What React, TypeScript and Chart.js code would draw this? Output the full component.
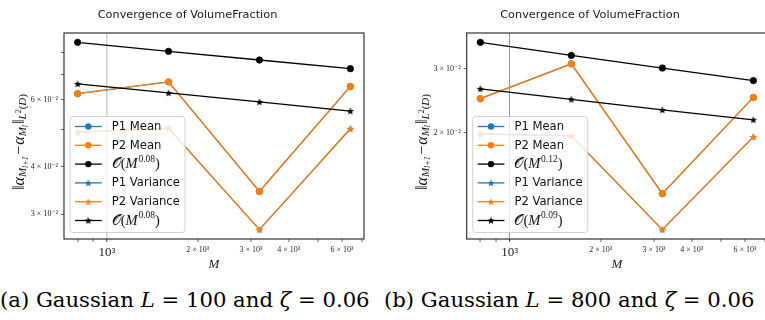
import React, { useEffect, useRef } from "react";
import { Chart, registerables } from "chart.js";

Chart.register(...registerables);

// ---------- data ----------
const mValues = [800, 1600, 3200, 6400];

const p1MeanA = [0.0622, 0.0668, 0.0344, 0.065];
const p2MeanA = [0.0622, 0.0668, 0.0344, 0.065];
const orderMeanA = [0.0849, 0.0804, 0.0763, 0.0724];
const p1VarA = [0.0492, 0.0505, 0.0273, 0.0503];
const p2VarA = [0.0492, 0.0505, 0.0273, 0.0503];
const orderVarA = [0.066, 0.0625, 0.0592, 0.056];

const p1MeanB = [0.0248, 0.0309, 0.0136, 0.025];
const p2MeanB = [0.0248, 0.0309, 0.0136, 0.025];
const orderMeanB = [0.0354, 0.0326, 0.0301, 0.0278];
const p1VarB = [0.01985, 0.0196, 0.01084, 0.01948];
const p2VarB = [0.01985, 0.0196, 0.01084, 0.01948];
const orderVarB = [0.0264, 0.0247, 0.0231, 0.0217];

const xTickValues = [800, 900, 1000, 2000, 3000, 4000, 5000, 6000, 7000];
const xTickLabels = ["", "", "10³", "2 × 10³", "3 × 10³", "4 × 10³", "", "6 × 10³", ""];
const yTickValuesA = [0.03, 0.04, 0.05, 0.06, 0.07, 0.08];
const yTickLabelsA = ["3 × 10⁻²", "4 × 10⁻²", "", "6 × 10⁻²", "", ""];
const yTickValuesB = [0.02, 0.03];
const yTickLabelsB = ["2 × 10⁻²", "3 × 10⁻²"];

const titleText = "Convergence of VolumeFraction";
const seriesNames = ["P1 Mean", "P2 Mean", "order", "P1 Variance", "P2 Variance", "order"];
const meanExpA = "0.08";
const varExpA = "0.08";
const meanExpB = "0.12";
const varExpB = "0.09";
const captionA = ["(a) Gaussian ", "L", " = 100 and ", "ζ", " = 0.06"];
const captionB = ["(b) Gaussian ", "L", " = 800 and ", "ζ", " = 0.06"];

const BLUE = "#1f77b4";
const ORANGE = "#ff7f0e";
const BLACK = "#000000";
const SERIF = '"Liberation Serif", "DejaVu Serif", serif';
const SANS = '"DejaVu Sans", sans-serif';

function logRange(values: number[]): [number, number] {
  const lo = Math.log10(Math.min(...values));
  const hi = Math.log10(Math.max(...values));
  const m = (hi - lo) * 0.05;
  return [Math.pow(10, lo - m), Math.pow(10, hi + m)];
}

const starCache: Record<string, HTMLCanvasElement> = {};
function starImg(color: string, r = 4): HTMLCanvasElement {
  const key = color + r;
  if (starCache[key]) return starCache[key];
  const c = document.createElement("canvas");
  const s = Math.ceil(r * 2 + 2);
  c.width = s;
  c.height = s;
  const g = c.getContext("2d")!;
  const cx = s / 2, cy = s / 2 + 0.3;
  g.beginPath();
  for (let i = 0; i < 10; i++) {
    const rad = i % 2 === 0 ? r : r * 0.42;
    const ang = -Math.PI / 2 + (i * Math.PI) / 5;
    const px = cx + rad * Math.cos(ang);
    const py = cy + rad * Math.sin(ang);
    if (i === 0) g.moveTo(px, py);
    else g.lineTo(px, py);
  }
  g.closePath();
  g.fillStyle = color;
  g.fill();
  starCache[key] = c;
  return c;
}

type Panel = {
  width: number;
  height: number;
  yWidth: number;
  padRight: number;
  series: number[][];
  meanExp: string;
  varExp: string;
  yTicks: number[];
  yLabels: string[];
  titleX: number;
  gridColor: string;
  gridWidth: number;
};

const colors = [BLUE, ORANGE, BLACK, BLUE, ORANGE, BLACK];
const markers = ["circle", "circle", "circle", "star", "star", "star"];

function drawYLabel(ctx: CanvasRenderingContext2D, x: number, y: number) {
  const pieces: { t: string; size: number; dy: number; it: boolean; gap?: number }[] = [
    { t: "‖", size: 16, dy: 0, it: false },
    { t: "α", size: 16, dy: 0, it: true },
    { t: "M", size: 11, dy: 3, it: true },
    { t: "l+1", size: 8, dy: 5.5, it: true, gap: 1.5 },
    { t: "−", size: 16, dy: 0, it: false, gap: 1 },
    { t: "α", size: 16, dy: 0, it: true },
    { t: "M", size: 11, dy: 3, it: true },
    { t: "l", size: 8, dy: 5.5, it: true, gap: 1 },
    { t: "‖", size: 16, dy: 0, it: false },
    { t: "L", size: 11, dy: 3.5, it: true },
    { t: "2", size: 8, dy: -1, it: false },
    { t: "(", size: 11, dy: 3.5, it: false },
    { t: "D", size: 11, dy: 3.5, it: true },
    { t: ")", size: 11, dy: 3.5, it: false },
  ];
  const font = (p: { size: number; it: boolean }) => `${p.it ? "italic " : ""}${p.size}px ${SERIF}`;
  let total = 0;
  for (const p of pieces) {
    ctx.font = font(p);
    total += ctx.measureText(p.t).width + (p.gap || 0);
  }
  ctx.save();
  ctx.translate(x, y);
  ctx.rotate(-Math.PI / 2);
  ctx.fillStyle = "#111";
  ctx.textBaseline = "middle";
  ctx.textAlign = "left";
  let cx = -total / 2;
  for (const p of pieces) {
    ctx.font = font(p);
    ctx.fillText(p.t, cx, p.dy);
    cx += ctx.measureText(p.t).width + (p.gap || 0);
  }
  ctx.restore();
}

function drawOrderText(ctx: CanvasRenderingContext2D, x: number, y: number, exp: string) {
  let cx = x;
  const parts: { t: string; f: string; dy: number }[] = [
    { t: "𝒪", f: `14.5px ${SERIF}`, dy: 0 },
    { t: "(", f: `14.5px ${SERIF}`, dy: 0 },
    { t: "M", f: `italic 14.5px ${SERIF}`, dy: 0 },
    { t: exp, f: `9.5px ${SERIF}`, dy: -5.5 },
    { t: ")", f: `14.5px ${SERIF}`, dy: 0 },
  ];
  for (const p of parts) {
    ctx.font = p.f;
    ctx.fillText(p.t, cx, y + p.dy);
    cx += ctx.measureText(p.t).width + (p.t === "M" ? 0.8 : 0);
  }
}

function makeChart(canvas: HTMLCanvasElement, p: Panel) {
  const [xMin, xMax] = logRange(mValues);
  const [yMin, yMax] = logRange(p.series.flat());
  const datasets = p.series.map((vals, i) => ({
    label: seriesNames[i],
    data: mValues.map((m, j) => ({ x: m, y: vals[j] })),
    borderColor: colors[i],
    backgroundColor: colors[i],
    borderWidth: 1.3,
    pointStyle: markers[i] === "star" ? starImg(colors[i]) : "circle",
    pointRadius: markers[i] === "star" ? 4 : 3.2,
    pointBorderWidth: 0.8,
    pointBackgroundColor: colors[i],
    pointBorderColor: colors[i],
    tension: 0,
    fill: false,
    order: 10 - i,
  }));

  const decor = {
    id: "decor",
    afterDraw(chart: any) {
      const ctx: CanvasRenderingContext2D = chart.ctx;
      const a = chart.chartArea;
      ctx.save();
      // frame
      ctx.strokeStyle = "#333";
      ctx.lineWidth = 1.2;
      ctx.strokeRect(a.left, a.top, a.right - a.left, a.bottom - a.top);
      // title
      ctx.fillStyle = "#1a1a1a";
      ctx.font = `11.3px ${SANS}`;
      ctx.textAlign = "center";
      ctx.textBaseline = "middle";
      ctx.fillText(titleText, p.titleX, 15);
      // x label
      ctx.font = `italic 13px ${SERIF}`;
      ctx.fillText("M", (a.left + a.right) / 2, 265);
      // y label
      drawYLabel(ctx, a.left - 44, (a.top + a.bottom) / 2 + 6);
      // legend
      const bw = 115, bh = 116;
      const bx = a.left + 6;
      const by = a.bottom - 6.5 - bh;
      const r = 3;
      ctx.beginPath();
      ctx.moveTo(bx + r, by);
      ctx.lineTo(bx + bw - r, by);
      ctx.quadraticCurveTo(bx + bw, by, bx + bw, by + r);
      ctx.lineTo(bx + bw, by + bh - r);
      ctx.quadraticCurveTo(bx + bw, by + bh, bx + bw - r, by + bh);
      ctx.lineTo(bx + r, by + bh);
      ctx.quadraticCurveTo(bx, by + bh, bx, by + bh - r);
      ctx.lineTo(bx, by + r);
      ctx.quadraticCurveTo(bx, by, bx + r, by);
      ctx.closePath();
      ctx.fillStyle = "rgba(255,255,255,0.8)";
      ctx.fill();
      ctx.strokeStyle = "#d0d0d0";
      ctx.lineWidth = 1;
      ctx.stroke();
      const exps = ["", "", p.meanExp, "", "", p.varExp];
      for (let i = 0; i < 6; i++) {
        const y = by + 10 + i * 18.8;
        ctx.strokeStyle = colors[i];
        ctx.lineWidth = 1.3;
        ctx.beginPath();
        ctx.moveTo(bx + 5, y);
        ctx.lineTo(bx + 31.7, y);
        ctx.stroke();
        const mx = bx + 18.3;
        if (markers[i] === "star") {
          const img = starImg(colors[i]);
          ctx.drawImage(img, mx - img.width / 2, y - img.height / 2);
        } else {
          ctx.fillStyle = colors[i];
          ctx.beginPath();
          ctx.arc(mx, y, 3.2, 0, Math.PI * 2);
          ctx.fill();
        }
        ctx.fillStyle = "#111";
        ctx.textAlign = "left";
        ctx.textBaseline = "middle";
        if (exps[i]) {
          drawOrderText(ctx, bx + 41.7, y + 0.5, exps[i]);
        } else {
          ctx.font = `11.6px ${SANS}`;
          ctx.fillText(seriesNames[i], bx + 41.7, y + 0.5);
        }
      }
      ctx.restore();
    },
  };

  return new Chart(canvas, {
    type: "line",
    data: { datasets: datasets as any },
    options: {
      animation: false,
      responsive: false,
      devicePixelRatio: 1,
      layout: { padding: { left: 0, top: 33, right: p.padRight, bottom: 0 } },
      plugins: { legend: { display: false }, tooltip: { enabled: false }, title: { display: false } },
      scales: {
        x: {
          type: "logarithmic",
          min: xMin,
          max: xMax,
          afterBuildTicks: (scale: any) => {
            scale.ticks = xTickValues.map((v) => ({ value: v }));
          },
          afterFit: (scale: any) => {
            scale.height = p.height - 239;
          },
          border: { display: false },
          grid: {
            drawOnChartArea: true,
            color: (ctx: any) => (ctx.tick && ctx.tick.value === 1000 ? p.gridColor : "rgba(0,0,0,0)"),
            lineWidth: (ctx: any) => (ctx.tick && ctx.tick.value === 1000 ? p.gridWidth : 0),
            tickColor: "#333",
            tickWidth: (ctx: any) => (ctx.tick && ctx.tick.value === 1000 ? 1 : 0.8),
            tickLength: 3,
          },
          ticks: {
            autoSkip: false,
            maxRotation: 0,
            minRotation: 0,
            padding: 3,
            color: "#222",
            font: (ctx: any) =>
              ctx.tick && ctx.tick.value === 1000
                ? { family: SERIF, size: 13 }
                : { family: SERIF, size: 8 },
            callback: (_v: any, i: number) => xTickLabels[i],
          },
        },
        y: {
          type: "logarithmic",
          min: yMin,
          max: yMax,
          afterBuildTicks: (scale: any) => {
            scale.ticks = p.yTicks.map((v) => ({ value: v }));
          },
          afterFit: (scale: any) => {
            scale.width = p.yWidth;
          },
          border: { display: false },
          grid: {
            drawOnChartArea: false,
            tickColor: "#333",
            tickLength: 3,
            tickWidth: 0.8,
          },
          ticks: {
            autoSkip: false,
            padding: 3,
            color: "#222",
            font: { family: SERIF, size: 8 },
            callback: (_v: any, i: number) => p.yLabels[i],
          },
        },
      },
    },
    plugins: [decor],
  } as any);
}

const panelA: Panel = {
  width: 380,
  height: 280,
  yWidth: 64,
  padRight: 16,
  series: [p1MeanA, p2MeanA, orderMeanA, p1VarA, p2VarA, orderVarA],
  meanExp: meanExpA,
  varExp: varExpA,
  yTicks: yTickValuesA,
  yLabels: yTickLabelsA,
  titleX: 187.5,
  gridColor: "rgba(170,170,170,0.55)",
  gridWidth: 1.5,
};

const panelB: Panel = {
  width: 420,
  height: 280,
  yWidth: 86.7,
  padRight: 33,
  series: [p1MeanB, p2MeanB, orderMeanB, p1VarB, p2VarB, orderVarB],
  meanExp: meanExpB,
  varExp: varExpB,
  yTicks: yTickValuesB,
  yLabels: yTickLabelsB,
  titleX: 210,
  gridColor: "rgba(120,120,120,0.8)",
  gridWidth: 1,
};

function ChartPanel({ panel, left }: { panel: Panel; left: number }) {
  const ref = useRef<HTMLCanvasElement>(null);
  useEffect(() => {
    if (!ref.current) return;
    const chart = makeChart(ref.current, panel);
    return () => chart.destroy();
  }, [panel]);
  return (
    <canvas
      ref={ref}
      width={panel.width}
      height={panel.height}
      style={{ position: "absolute", left, top: 0, width: panel.width, height: panel.height }}
    />
  );
}

function Caption({ parts, left }: { parts: string[]; left: number }) {
  return (
    <div
      style={{
        position: "absolute",
        left,
        top: 286,
        fontFamily: '"DejaVu Serif", serif',
        fontSize: 21.2,
        whiteSpace: "nowrap",
        color: "#000",
        lineHeight: "27px",
      }}
    >
      {parts.map((t, i) => (i % 2 === 1 ? <i key={i}>{t}</i> : <span key={i}>{t}</span>))}
    </div>
  );
}

export default function App() {
  return (
    <div
      style={{
        position: "absolute",
        left: 0,
        top: 0,
        width: 765,
        height: 320,
        overflow: "hidden",
        background: "#fff",
      }}
    >
      <ChartPanel panel={panelA} left={0} />
      <ChartPanel panel={panelB} left={380} />
      <Caption parts={captionA} left={0} />
      <Caption parts={captionB} left={384} />
    </div>
  );
}
